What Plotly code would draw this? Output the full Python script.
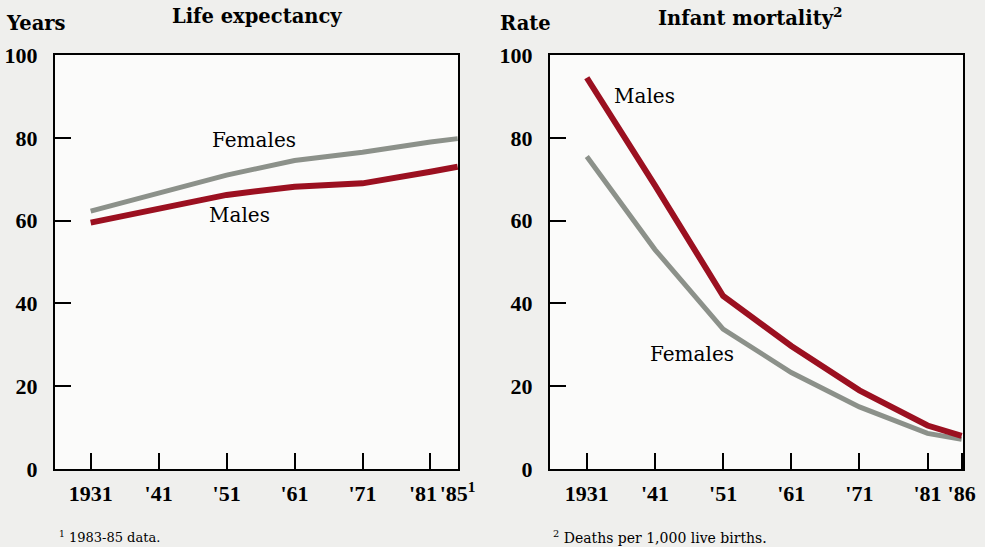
import plotly.graph_objects as go

# ---- data ----
years_le = [1931, 1941, 1951, 1961, 1971, 1981, 1985]
le_males = [59.5, 63.0, 66.2, 68.2, 69.0, 71.8, 73.0]
le_females = [62.3, 66.5, 71.0, 74.5, 76.5, 79.0, 79.8]

years_im = [1931, 1941, 1951, 1961, 1971, 1981, 1986]
im_males = [94.5, 68.5, 41.8, 29.7, 19.0, 10.5, 8.0]
im_females = [75.5, 53.0, 33.8, 23.3, 15.0, 8.6, 7.2]

le_tickvals = [1931, 1941, 1951, 1961, 1971, 1981, 1985]
le_ticktext = ["1931", "'41", "'51", "'61", "'71", "", "'85<sup>1</sup>"]
le_crowded_label = "'81"   # drawn slightly left of its tick, as in the original
im_tickvals = [1931, 1941, 1951, 1961, 1971, 1981, 1986]
im_ticktext = ["1931", "'41", "'51", "'61", "'71", "'81", "'86"]
y_tickvals = [0, 20, 40, 60, 80, 100]

MALE = "#9b1020"
FEMALE = "#8c918a"
SERIF = "DejaVu Serif"
TICKSERIF = "Liberation Serif"

fig = go.Figure()
fig.add_trace(go.Scatter(x=years_le, y=le_females, mode="lines",
                         line=dict(color=FEMALE, width=5), xaxis="x", yaxis="y"))
fig.add_trace(go.Scatter(x=years_le, y=le_males, mode="lines",
                         line=dict(color=MALE, width=6), xaxis="x", yaxis="y"))
fig.add_trace(go.Scatter(x=years_im, y=im_females, mode="lines",
                         line=dict(color=FEMALE, width=5), xaxis="x2", yaxis="y2"))
fig.add_trace(go.Scatter(x=years_im, y=im_males, mode="lines",
                         line=dict(color=MALE, width=6), xaxis="x2", yaxis="y2"))

W, H = 985, 547
ydom = [(H - 469) / H, (H - 55) / H]

tickfont = dict(family=TICKSERIF, size=22, color="black", weight="bold")
axis_common = dict(showline=True, mirror=True, linecolor="black", linewidth=2,
                   ticks="inside", ticklen=16, tickwidth=2, tickcolor="black",
                   showgrid=False, zeroline=False, automargin=False,
                   tickfont=tickfont)

fig.update_layout(
    width=W, height=H,
    margin=dict(l=0, r=0, t=0, b=0, autoexpand=False),
    paper_bgcolor="#efefed", plot_bgcolor="#fbfbfa",
    showlegend=False,
    xaxis=dict(domain=[55 / W, 458 / W], range=[1925.75, 1985.05], tickangle=0,
               ticklabelstandoff=4,
               tickvals=le_tickvals, ticktext=le_ticktext, anchor="y", **axis_common),
    yaxis=dict(domain=ydom, range=[0, 100], tickvals=y_tickvals, anchor="x",
               ticklabelstandoff=11, **axis_common),
    xaxis2=dict(domain=[550 / W, 963 / W], range=[1925.6, 1986.2], tickangle=0,
                ticklabelstandoff=4,
                tickvals=im_tickvals, ticktext=im_ticktext, anchor="y2", **axis_common),
    yaxis2=dict(domain=ydom, range=[0, 100], tickvals=y_tickvals, anchor="x2",
                ticklabelstandoff=11, **axis_common),
)

bold = dict(family=SERIF, size=19.5, color="black", weight="bold")
reg = dict(family=SERIF, size=20, color="black")

anns = [
    dict(text="Life expectancy", x=257 / W, y=1 - 17 / H, font=bold),
    dict(text="Infant mortality<sup>2</sup>", x=750 / W, y=1 - 17 / H, font=bold),
    dict(text="Years", x=36 / W, y=1 - 24 / H, font=bold),
    dict(text="Rate", x=525 / W, y=1 - 24 / H, font=bold),
    dict(text="<sup>1</sup> 1983-85 data.", x=57 / W, y=1 - 537 / H, xanchor="left",
         font=dict(family=SERIF, size=13, color="black")),
    dict(text="<sup>2</sup> Deaths per 1,000 live births.", x=551 / W, y=1 - 537 / H, xanchor="left",
         font=dict(family=SERIF, size=14, color="black")),
]
for a in anns:
    a.update(xref="paper", yref="paper", showarrow=False)
    a.setdefault("xanchor", "center")
    a["yanchor"] = "middle"
    fig.add_annotation(**a)

# crowded '81 tick label on the left panel
fig.add_annotation(text=le_crowded_label, x=1981, xref="x", y=1 - 493 / H, yref="paper",
                   xanchor="center", yanchor="middle", xshift=-7, showarrow=False,
                   font=tickfont)

labels = [
    dict(text="Females", x=1955.1, y=79.5, xref="x", yref="y"),
    dict(text="Males", x=1952.9, y=61.4, xref="x", yref="y"),
    dict(text="Males", x=1939.4, y=90.0, xref="x2", yref="y2"),
    dict(text="Females", x=1946.4, y=27.8, xref="x2", yref="y2"),
]
for a in labels:
    fig.add_annotation(showarrow=False, font=reg, xanchor="center", yanchor="middle", **a)

fig.write_html("out.html", config={"displayModeBar": False},
               post_script="document.body.style.margin='0';document.body.style.overflow='hidden';")
